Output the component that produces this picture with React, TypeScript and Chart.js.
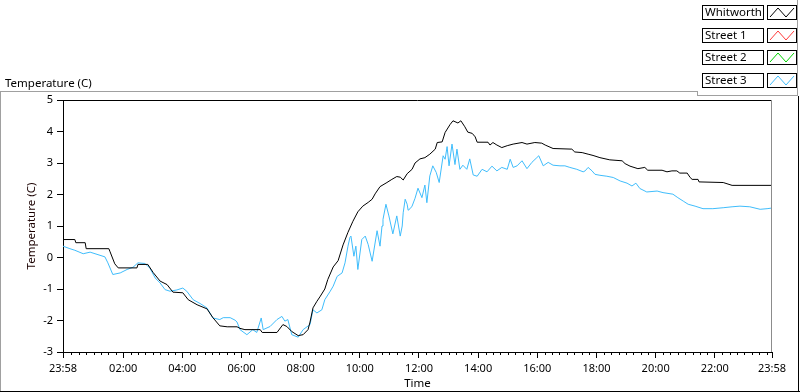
import React, { useEffect, useRef } from 'react';
import { Chart, registerables } from 'chart.js';

Chart.register(...registerables);

// ---------- data ----------
const seriesNames = ['Whitworth', 'Street 1', 'Street 2', 'Street 3'];
const seriesColors = ['#000000', '#ff3b3b', '#00d200', '#3fbdfc'];

// minutes elapsed since 23:58
const whitworthMinutes = [
  0, 24, 26, 45, 47, 93, 95, 105, 112, 150, 152, 172, 183, 197, 211, 223, 243, 254, 272, 292,
  304, 318, 333, 353, 359, 369, 400, 404, 434, 446, 454, 464, 477, 487, 497, 501, 507, 515, 521, 531,
  537, 548, 558, 568, 578, 588, 598, 608, 619, 627, 633, 643, 657, 667, 677, 684, 690, 698, 708, 714,
  724, 734, 744, 755, 759, 769, 775, 785, 791, 801, 807, 815, 821, 830, 836, 840, 862, 866, 872, 880,
  890, 901, 913, 931, 941, 957, 971, 978, 994, 1032, 1038, 1053, 1065, 1075, 1089, 1109, 1134, 1140, 1150, 1166,
  1180, 1186, 1215, 1225, 1235, 1245, 1251, 1266, 1272, 1276, 1288, 1290, 1339, 1357, 1438,
];
const whitworthTemps = [
  0.57, 0.57, 0.47, 0.47, 0.28, 0.28, 0.2, -0.2, -0.33, -0.33, -0.22, -0.22, -0.48, -0.75, -0.86, -1.1, -1.12, -1.34, -1.5, -1.63,
  -1.91, -2.17, -2.2, -2.2, -2.25, -2.29, -2.29, -2.38, -2.38, -2.13, -2.19, -2.35, -2.48, -2.45, -2.29, -2.05, -1.6, -1.39, -1.25, -1.0,
  -0.7, -0.3, -0.1, 0.4, 0.8, 1.15, 1.45, 1.63, 1.75, 1.85, 2.02, 2.25, 2.38, 2.48, 2.57, 2.55, 2.46, 2.66, 2.8, 3.0,
  3.13, 3.17, 3.28, 3.44, 3.65, 3.67, 3.97, 4.22, 4.34, 4.27, 4.34, 4.15, 3.98, 3.94, 3.83, 3.66, 3.66, 3.57, 3.65, 3.57,
  3.49, 3.55, 3.6, 3.65, 3.6, 3.65, 3.63, 3.57, 3.46, 3.44, 3.35, 3.33, 3.28, 3.24, 3.17, 3.1, 3.07, 2.98, 2.9, 2.82,
  2.86, 2.77, 2.77, 2.72, 2.75, 2.75, 2.68, 2.68, 2.54, 2.48, 2.48, 2.4, 2.38, 2.29, 2.29,
];

const street3Minutes = [
  0, 14, 24, 41, 55, 69, 85, 91, 101, 116, 130, 142, 152, 166, 176, 187, 197, 207, 217, 231,
  243, 251, 264, 278, 292, 304, 318, 325, 339, 349, 353, 359, 373, 385, 393, 402, 406, 420, 434, 444,
  450, 456, 464, 477, 487, 501, 507, 515, 525, 531, 542, 548, 556, 566, 572, 578, 582, 584, 590, 594,
  598, 606, 613, 619, 627, 637, 643, 647, 649, 655, 661, 669, 677, 684, 688, 690, 694, 698, 700, 704,
  708, 714, 720, 728, 734, 738, 744, 750, 757, 763, 771, 775, 779, 783, 789, 795, 799, 805, 811, 819,
  825, 832, 840, 850, 860, 870, 880, 890, 901, 907, 913, 921, 931, 941, 951, 961, 965, 974, 984, 994,
  1008, 1018, 1028, 1042, 1055, 1059, 1065, 1073, 1079, 1089, 1103, 1116, 1130, 1144, 1154, 1162, 1170, 1184, 1205, 1217,
  1237, 1247, 1258, 1268, 1282, 1298, 1318, 1339, 1357, 1373, 1393, 1414, 1428, 1438,
];
const street3Temps = [
  0.36, 0.28, 0.23, 0.12, 0.17, 0.1, 0.02, -0.17, -0.54, -0.49, -0.38, -0.31, -0.17, -0.19, -0.33, -0.65, -0.81, -1.02, -1.07, -1.03,
  -0.97, -1.07, -1.34, -1.46, -1.6, -1.92, -1.97, -1.91, -1.91, -1.99, -2.05, -2.29, -2.45, -2.29, -2.38, -1.92, -2.29, -2.19, -1.97, -1.87,
  -2.02, -1.97, -2.45, -2.53, -2.29, -2.13, -1.66, -1.76, -1.66, -1.34, -1.07, -0.91, -0.6, -0.49, -0.17, 0.36, 0.64, 0.68, 0.04, 0.36,
  -0.38, 0.57, 0.68, 0.41, -0.12, 0.85, 0.36, 1.0, 1.21, 1.69, 1.32, 0.75, 1.32, 0.68, 1.0, 1.42, 1.85, 1.69, 1.5, 1.55,
  1.63, 1.88, 2.2, 1.9, 2.3, 1.74, 2.59, 2.91, 2.7, 2.38, 3.23, 3.12, 3.52, 2.91, 3.6, 2.95, 3.44, 2.8, 2.93, 2.8,
  3.13, 2.62, 2.58, 2.8, 2.72, 2.9, 2.75, 2.86, 2.8, 3.12, 2.86, 2.91, 3.07, 2.82, 3.02, 3.17, 3.23, 2.91, 3.02, 2.93,
  2.91, 2.91, 2.86, 2.8, 2.72, 2.75, 2.86, 2.75, 2.64, 2.61, 2.58, 2.54, 2.43, 2.36, 2.27, 2.36, 2.19, 2.08, 2.11, 2.06,
  2.01, 1.9, 1.79, 1.69, 1.63, 1.55, 1.55, 1.58, 1.61, 1.63, 1.61, 1.53, 1.55, 1.57,
];

const xMajorMinutes = [0, 122, 242, 362, 482, 602, 722, 842, 962, 1082, 1202, 1322, 1438];
const xMajorLabels = ['23:58', '02:00', '04:00', '06:00', '08:00', '10:00', '12:00', '14:00', '16:00', '18:00', '20:00', '22:00', '23:58'];
const yTickValues = [-3, -2, -1, 0, 1, 2, 3, 4, 5];

const yAxisTitle = 'Temperature (C)';
const xAxisTitle = 'Time';
const panelLabel = 'Temperature (C)';

const FONT = '"Noto Sans", "Liberation Sans", sans-serif';

// minor tick every 15 clock minutes (00:15 is 17 min after 23:58)
const xMinorMinutes: number[] = [];
for (let m = 17; m < 1438; m += 15) {
  if (!xMajorMinutes.includes(m)) xMinorMinutes.push(m);
}

const decorPlugin = {
  id: 'decor',
  beforeDraw(chart: any) {
    const ctx = chart.ctx;
    ctx.save();
    ctx.fillStyle = '#ffffff';
    ctx.fillRect(0, 0, chart.width, chart.height);
    ctx.restore();
  },
  afterDraw(chart: any) {
    const ctx = chart.ctx;
    const { left, right, top, bottom } = chart.chartArea;
    const xs = chart.scales.x;
    const line = (x1: number, y1: number, x2: number, y2: number, c: string) => {
      ctx.strokeStyle = c;
      ctx.beginPath();
      ctx.moveTo(x1, y1);
      ctx.lineTo(x2, y2);
      ctx.stroke();
    };
    ctx.save();
    ctx.lineWidth = 1;
    // plot frame top (black) and right (gray)
    line(Math.round(left), Math.round(top) + 0.5, Math.round(right), Math.round(top) + 0.5, '#000');
    line(Math.round(right) - 0.5, Math.round(top), Math.round(right) - 0.5, Math.round(bottom), '#8c8c8c');
    // minor ticks
    for (const m of xMinorMinutes) {
      const px = Math.round(xs.getPixelForValue(m)) + 0.5;
      line(px, Math.round(bottom), px, Math.round(bottom) + 3, '#000');
    }
    // panel border
    line(0, 91.5, 698, 91.5, '#a0a0a0');
    line(0.5, 91, 0.5, 392, '#a0a0a0');
    line(0, 391.5, 800, 391.5, '#000');
    line(798.5, 96, 798.5, 392, '#000');
    // legend frame
    line(697.5, 91, 697.5, 96, '#a0a0a0');
    line(697, 95.5, 798, 95.5, '#a0a0a0');
    line(797.5, 0, 797.5, 96, '#a0a0a0');

    // panel label
    ctx.fillStyle = '#000';
    ctx.font = `11.5px ${FONT}`;
    ctx.textBaseline = 'alphabetic';
    ctx.textAlign = 'left';
    ctx.fillText(panelLabel, 5, 87);

    // legend
    const rowY = [5, 28, 50, 73];
    chart.data.datasets.forEach((ds: any, i: number) => {
      const y = rowY[i];
      ctx.fillStyle = '#fff';
      ctx.fillRect(702, y, 61, 14);
      ctx.fillRect(767, y, 29, 14);
      ctx.strokeStyle = '#000';
      ctx.strokeRect(702.5, y + 0.5, 61, 14);
      ctx.strokeRect(767.5, y + 0.5, 29, 14);
      ctx.fillStyle = '#000';
      ctx.font = `11.5px ${FONT}`;
      ctx.textBaseline = 'middle';
      ctx.fillText(ds.label, 705, y + 8);
      ctx.strokeStyle = ds.borderColor;
      ctx.beginPath();
      ctx.moveTo(770, y + 12);
      ctx.lineTo(778, y + 3);
      ctx.lineTo(786, y + 12);
      ctx.lineTo(794, y + 3);
      ctx.stroke();
    });
    ctx.restore();
  },
};

export default function App() {
  const canvasRef = useRef<HTMLCanvasElement | null>(null);

  useEffect(() => {
    document.body.style.margin = '0';
    const canvas = canvasRef.current;
    if (!canvas) return;
    const seriesMinutes = [whitworthMinutes, [], [], street3Minutes];
    const seriesTemps = [whitworthTemps, [], [], street3Temps];
    const chart = new Chart(canvas, {
      type: 'line',
      data: {
        datasets: seriesNames.map((name, i) => ({
          label: name,
          data: (seriesMinutes[i] as number[]).map((m, j) => ({ x: m, y: (seriesTemps[i] as number[])[j] })),
          borderColor: seriesColors[i],
          backgroundColor: seriesColors[i],
          borderWidth: 1,
          pointRadius: 0,
          tension: 0,
          fill: false,
        })),
      },
      options: {
        responsive: false,
        devicePixelRatio: 1,
        animation: false,
        events: [],
        layout: { padding: { left: 0, top: 100, right: 28, bottom: 0 } },
        plugins: { legend: { display: false }, tooltip: { enabled: false }, title: { display: false } },
        scales: {
          x: {
            type: 'linear',
            min: 0,
            max: 1438,
            afterBuildTicks: (scale: any) => {
              scale.ticks = xMajorMinutes.map((v) => ({ value: v }));
            },
            afterFit: (scale: any) => {
              scale.height = 40;
            },
            ticks: {
              autoSkip: false,
              maxRotation: 0,
              minRotation: 0,
              padding: 4,
              color: '#000',
              font: { family: FONT, size: 11 },
              callback: (v: any) => {
                const i = xMajorMinutes.indexOf(Number(v));
                return i >= 0 ? xMajorLabels[i] : '';
              },
            },
            grid: { drawOnChartArea: false, drawTicks: true, tickLength: 6, color: '#000', tickColor: '#000' },
            border: { display: true, color: '#000', width: 1 },
            title: {
              display: true,
              text: xAxisTitle,
              color: '#000',
              font: { family: FONT, size: 11.5 },
              padding: { top: 0, bottom: 1 },
            },
          },
          y: {
            type: 'linear',
            min: -3,
            max: 5,
            afterBuildTicks: (scale: any) => {
              scale.ticks = yTickValues.map((v) => ({ value: v }));
            },
            afterFit: (scale: any) => {
              scale.width = 63;
            },
            ticks: {
              padding: 4,
              color: '#000',
              font: { family: FONT, size: 11 },
            },
            grid: { drawOnChartArea: false, drawTicks: true, tickLength: 6, color: '#000', tickColor: '#000' },
            border: { display: true, color: '#000', width: 1 },
            title: {
              display: true,
              text: yAxisTitle,
              color: '#1a0000',
              font: { family: FONT, size: 11.5 },
              padding: { top: 25, bottom: 0 },
            },
          },
        },
      },
      plugins: [decorPlugin],
    } as any);
    return () => chart.destroy();
  }, []);

  return (
    <div style={{ position: 'absolute', left: 0, top: 0, width: 800, height: 392, background: '#fff' }}>
      <canvas ref={canvasRef} width={800} height={392} style={{ display: 'block', width: 800, height: 392 }} />
    </div>
  );
}
